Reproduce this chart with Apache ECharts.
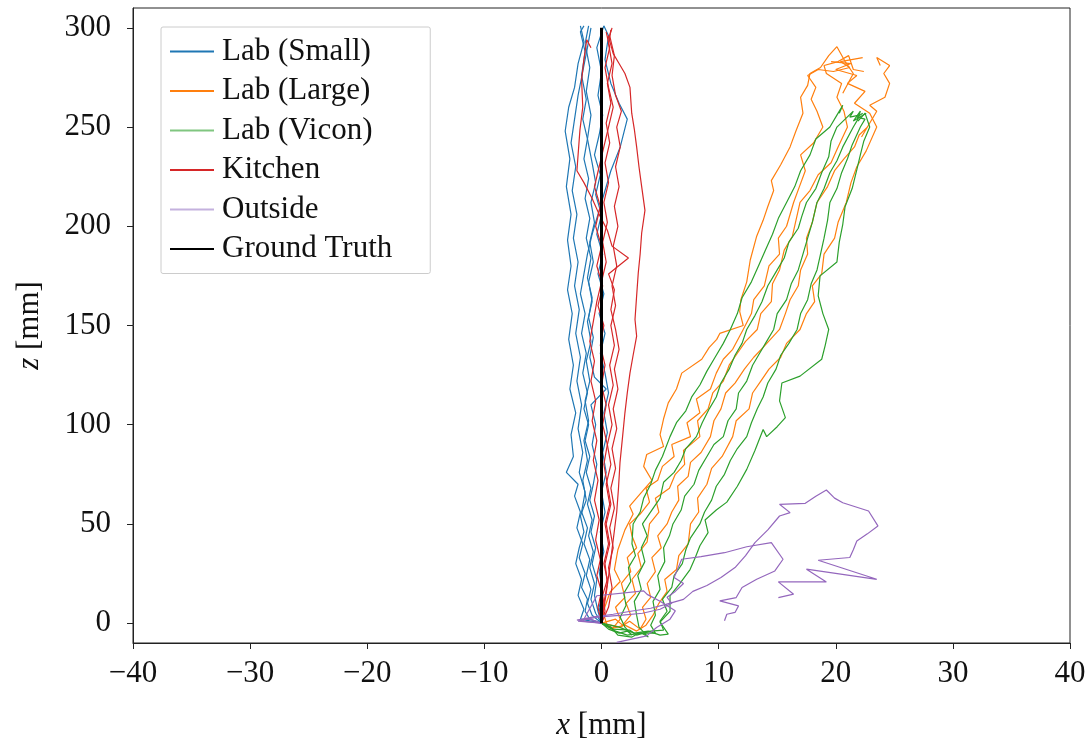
<!DOCTYPE html>
<html>
<head>
<meta charset="utf-8">
<script src="https://cdn.jsdelivr.net/npm/echarts@6/dist/echarts.min.js"></script>
<style>
html,body{margin:0;padding:0;background:#fff;}
#chart{width:1090px;height:746px;}
</style>
</head>
<body>
<div id="chart"></div>
<script>
// ---- Data (x [mm], z [mm]) ----
const groupNames = ['Lab (Small)', 'Lab (Large)', 'Lab (Vicon)', 'Kitchen', 'Outside', 'Ground Truth'];
const xTicks = [-40, -30, -20, -10, 0, 10, 20, 30, 40];
const zTicks = [0, 50, 100, 150, 200, 250, 300];

const labSmall = [
  [[0,0],[-1.0,2],[-1.4,6],[-1.2,12],[-1.7,18],[-1.4,25],[-1.9,33],[-1.6,40],[-2.1,48],[-1.8,56],[-2.3,64],[-2.0,70],[-3.0,76],[-2.4,84],[-2.6,95],[-2.2,106],[-2.7,118],[-2.4,130],[-2.8,143],[-2.5,156],[-2.9,168],[-2.6,180],[-2.9,193],[-2.6,206],[-3.0,220],[-2.7,234],[-3.1,248],[-2.8,260],[-2.3,270],[-2.0,282],[-1.5,293],[-1.8,301]],
  [[0,0],[-0.8,4],[-1.2,10],[-0.9,17],[-1.3,24],[-1.0,32],[-1.5,40],[-1.2,48],[-1.7,56],[-1.4,66],[-1.9,76],[-1.6,86],[-2.0,98],[-1.7,110],[-2.1,122],[-1.8,134],[-2.2,146],[-1.9,158],[-2.3,170],[-2.0,182],[-2.4,194],[-2.1,206],[-2.5,218],[-2.2,230],[-2.6,242],[-2.3,254],[-2.0,266],[-1.6,278],[-1.2,290],[-0.9,300]],
  [[0,0],[-0.5,5],[-0.9,12],[-0.6,20],[-1.0,28],[-0.7,36],[-1.1,44],[-0.8,52],[-1.2,60],[-0.9,68],[-1.3,76],[-1.0,84],[-1.4,92],[-1.1,100],[-1.5,108],[-1.2,116],[-1.6,126],[-1.3,136],[-1.7,146],[-1.4,156],[-1.8,166],[-1.5,176],[-1.2,186],[-0.8,196],[-0.3,206],[0.2,216],[0.8,228],[1.6,240],[2.2,254],[1.5,262],[0.8,272],[0.3,284],[0.6,296],[0.2,301]],
  [[0,0],[-0.3,6],[-0.6,14],[-0.4,22],[-0.8,30],[-0.5,38],[-0.9,46],[-0.6,54],[-1.0,62],[-0.7,70],[-0.4,80],[-0.8,90],[-0.5,100],[-0.9,110],[0.4,118],[-0.6,124],[-1.0,134],[-0.7,144],[-1.1,154],[-0.8,164],[-1.2,174],[-0.9,184],[-1.3,194],[-1.0,204],[-1.4,214],[-1.1,224],[-1.5,234],[-1.2,244],[-1.6,254],[-1.3,264],[-1.7,276],[-1.4,288],[-1.8,298],[-1.5,301]],
  [[0,0],[-1.8,2],[-1.5,7],[-2.0,14],[-1.7,22],[-2.2,30],[-1.9,38],[-1.5,46],[-1.8,54],[-1.3,62],[-1.6,72],[-1.2,82],[-1.5,92],[-1.1,102],[-1.4,112],[-1.0,122],[-1.3,132],[-0.9,142],[-1.2,152],[-0.8,162],[-1.1,172],[-0.7,182],[-1.0,192],[-0.6,202],[-0.9,212],[-0.5,222],[-0.8,232],[-1.2,244],[-0.9,256],[-1.3,268],[-1.0,280],[-1.4,292],[-1.1,301]],
  [[0,0],[-0.2,8],[0.1,16],[-0.2,26],[0.2,36],[-0.1,46],[0.3,56],[0.0,66],[0.4,76],[0.1,86],[0.5,96],[0.2,106],[0.6,116],[0.3,126],[-0.1,136],[0.3,146],[-0.2,156],[0.2,166],[-0.3,176],[0.1,186],[-0.4,196],[0.0,206],[-0.5,216],[-0.1,226],[-0.6,236],[-0.2,246],[0.1,256],[-0.3,266],[0.0,278],[-0.4,290],[0.2,301]]
];

const labLarge = [
  [[0,0],[0.5,-1.5],[0.13,5.5],[0.73,15.6],[1.6,21],[1.1,27],[1.4,37],[2.0,47],[2.7,55],[2.4,59],[3.43,66],[4.3,72],[3.6,79],[3.86,85],[5.3,89],[5.0,95],[5.3,103],[5.7,111],[6.4,118],[6.85,126],[8.56,133],[9.2,139],[9.84,143],[10.1,146],[12.1,150],[11.8,157],[11.9,163],[12.4,172],[12.7,183],[13.25,195],[13.8,203],[14.2,210],[14.7,218],[14.5,223],[15.3,231],[16.1,240],[16.6,248],[17.2,257],[17.0,265],[17.6,271],[17.8,277],[18.7,280],[19.4,286],[20.1,290.5],[20.8,283],[21.5,277],[20.6,267]],
  [[0,0],[0.9,-3],[1.6,2],[1.2,8],[2.0,13],[1.7,20],[2.5,26],[2.2,33],[3.0,38],[2.6,44],[2.4,50],[3.3,55],[4.1,61],[3.8,68],[4.8,72],[5.2,79],[6.2,84],[6.0,90],[7.6,94],[7.3,101],[8.4,106],[8.1,113],[9.3,118],[9.8,126],[10.4,133],[11.2,138],[12.1,148],[12.8,156],[13.0,163],[13.9,170],[14.3,180],[15.2,186],[15.1,194],[15.8,200],[16.4,212],[16.9,220],[17.4,228],[17.0,236],[18.1,242],[18.9,250],[18.4,258],[17.9,264],[18.3,270],[17.6,276],[18.5,279],[19.8,278],[21.2,280],[20.4,283],[22.3,285]],
  [[0,0],[1.2,2],[1.8,-1],[2.5,4],[2.1,10],[2.9,15],[2.6,22],[3.4,28],[3.1,35],[3.9,41],[4.1,50],[4.9,56],[4.6,63],[5.8,68],[6.3,75],[7.1,80],[7.0,87],[8.4,94],[8.2,102],[9.1,108],[9.5,116],[10.4,122],[10.9,130],[11.6,136],[12.3,142],[13.3,148],[13.6,156],[14.5,162],[14.6,171],[15.2,178],[15.6,188],[16.3,195],[16.95,212],[17.8,218],[18.5,226],[19.6,232],[20.2,240],[21.0,250],[20.7,258],[20.1,265],[20.5,272],[19.2,277],[19.0,281],[20.2,283],[21.1,286],[21.5,279],[22.4,278]],
  [[0,0],[1.6,-2],[2.4,1],[3.3,-3],[3.8,2],[3.5,8],[4.2,13],[3.9,20],[4.6,26],[4.3,33],[5.1,38],[4.8,44],[5.6,50],[6.0,56],[6.6,62],[6.5,69],[7.4,74],[7.6,81],[8.5,86],[9.3,94],[9.6,102],[10.2,108],[10.6,116],[11.4,121],[12.2,128],[13.0,134],[13.8,139],[15.2,148],[15.7,156],[16.1,163],[16.8,170],[17.0,178],[17.6,186],[17.5,194],[18.0,202],[18.4,212],[19.3,220],[19.9,228],[20.7,234],[21.6,240],[22.0,246],[22.7,250],[22.2,245],[23.5,258],[22.9,261],[24.2,265],[24.6,272],[24.1,277],[24.6,281],[23.5,285],[23.8,281]],
  [[0,0],[1.0,-2.5],[2.0,-1],[3.0,-4],[3.8,-1],[4.4,4],[4.9,10],[5.6,16],[5.4,22],[6.4,27],[6.6,34],[7.4,40],[7.6,50],[8.3,56],[8.2,63],[9.0,70],[9.4,78],[10.3,84],[11.2,94],[11.5,102],[12.6,108],[12.9,116],[13.6,122],[14.3,128],[15.3,134],[15.8,141],[16.95,148],[17.5,156],[18.2,162],[18.0,170],[18.8,176],[19.0,186],[19.9,194],[20.2,202],[20.9,212],[21.3,222],[21.8,230],[22.6,238],[23.5,250],[22.9,257],[21.6,262],[22.5,268],[21.0,272],[21.8,276],[20.0,279],[21.3,282],[19.6,283]]
];

const labVicon = [
  [[0,0],[0.6,-3],[1.5,-5],[2.2,-4],[2.6,-6],[2.0,-2],[1.6,3],[2.1,9],[1.9,15],[2.5,21],[2.3,28],[2.9,34],[2.6,40],[2.7,50],[3.3,56],[3.6,63],[4.2,70],[4.6,77],[5.2,84],[5.85,94],[6.4,101],[7.2,107],[7.7,114],[8.4,120],[9.0,127],[9.7,134],[10.4,141],[11.0,148],[11.6,156],[12.0,164],[12.8,172],[13.4,180],[14.0,188],[14.6,196],[15.1,204],[15.8,212],[16.5,220],[17.0,228],[17.8,236],[18.3,244],[19.5,250],[20.1,256],[20.6,261],[20.3,257]],
  [[0,0],[1.2,-4],[2.2,-6],[3.4,-5],[4.0,-7],[3.2,-2],[3.0,4],[2.8,11],[3.4,17],[3.1,24],[3.7,31],[3.4,38],[3.9,44],[3.5,50],[4.3,57],[5.0,63],[5.3,71],[6.2,76],[6.8,82],[7.2,88],[8.1,94],[8.6,101],[9.2,108],[9.8,114],[10.2,121],[10.9,128],[11.4,135],[12.0,141],[12.4,148],[13.1,155],[13.7,162],[14.2,170],[14.9,177],[15.6,184],[16.0,192],[16.8,199],[17.1,205],[17.5,212],[18.3,219],[18.8,227],[19.4,235],[19.6,243],[20.1,250],[20.8,254],[21.5,258],[21.2,255],[22.0,256]],
  [[0,0],[0.8,-2],[1.4,-6],[2.6,-7],[3.2,-5],[4.6,-5],[4.2,-1],[4.6,4],[4.4,11],[5.0,17],[4.8,24],[5.4,31],[5.3,38],[5.8,44],[6.1,50],[6.8,57],[7.1,64],[7.9,70],[8.3,77],[9.0,84],[9.6,90],[10.4,94],[10.8,102],[11.5,108],[11.7,116],[12.4,122],[12.9,130],[13.5,136],[14.1,142],[14.7,148],[15.0,156],[15.8,163],[16.2,171],[16.8,178],[17.2,186],[17.6,194],[18.0,202],[18.4,212],[19.0,219],[19.5,227],[20.1,233],[20.6,240],[21.5,250],[21.9,254],[22.1,258],[21.5,253],[22.6,257]],
  [[0,0],[1.0,-3],[2.4,-3.5],[3.0,-6],[4.2,-4],[5.3,-3.5],[5.0,1],[5.6,6],[5.2,12],[6.0,18],[6.2,24],[6.9,30],[7.2,37],[7.6,43],[8.4,50],[8.8,56],[9.4,62],[9.8,69],[10.5,75],[11.0,82],[11.6,88],[12.4,94],[12.8,101],[13.3,108],[13.8,114],[14.2,121],[14.9,128],[15.3,135],[16.0,141],[16.7,148],[17.0,156],[17.6,163],[17.9,171],[18.4,178],[18.7,186],[19.0,194],[19.3,203],[19.5,212],[20.1,219],[20.5,227],[21.0,234],[21.4,241],[22.1,250],[22.5,254],[21.8,255],[22.3,257]],
  [[0,0],[1.5,-2],[2.8,-5],[4.0,-4],[5.0,-6],[5.7,-5.5],[5.0,0.5],[5.85,6],[5.85,13.7],[6.7,20],[7.56,27],[8.0,33],[8.4,39],[9.1,45.6],[8.84,52],[9.8,57],[10.7,61],[11.6,69],[12.4,77.5],[13.1,87],[13.8,97.6],[14.1,94],[15.0,99],[15.7,103.6],[15.2,112],[15.4,121],[16.95,124.5],[18.8,133],[19.1,140],[19.4,148],[18.9,156],[18.5,165],[18.66,175],[20.1,182],[20.3,192],[20.6,201],[20.8,210],[21.4,219],[21.8,228.5],[22.1,236],[22.4,243],[22.9,250],[22.5,257],[21.9,253]]
];

const kitchen = [
  [[0,0],[0.15,5.5],[0.4,15],[0.73,29],[1.0,42],[1.3,56],[1.45,68],[1.58,81],[1.8,94],[2.0,106],[2.2,116],[2.43,126],[2.7,135],[3.0,144.6],[2.86,153],[3.0,165],[3.14,176.6],[3.3,186],[3.43,196.6],[3.71,208],[3.43,220],[3.2,230],[3.0,240],[2.8,249],[2.58,257],[2.43,270],[2.0,277],[1.5,282],[1.0,287],[0.58,296]],
  [[0,0],[0.6,8],[0.9,18],[0.6,28],[1.0,38],[0.7,48],[1.1,58],[0.8,68],[1.2,78],[0.9,88],[1.3,98],[1.0,108],[1.4,118],[1.1,128],[1.5,138],[1.2,148],[0.8,158],[1.1,168],[0.6,176],[2.3,184],[0.9,190],[0.5,198],[-0.2,206],[-0.8,214],[-1.5,222],[-2.1,228],[-1.84,248.6],[-1.6,260],[-1.7,273.8],[-1.5,284],[-1.26,294],[-0.9,290]],
  [[0,0],[0.3,6],[0.1,14],[0.5,22],[0.2,30],[0.6,40],[0.3,50],[0.7,60],[0.4,70],[0.8,80],[0.5,90],[0.9,100],[0.6,110],[1.0,120],[0.7,130],[1.1,140],[0.8,150],[1.2,160],[0.9,170],[1.3,180],[1.0,190],[1.4,200],[1.1,210],[1.5,220],[1.2,230],[1.6,240],[1.3,250],[1.7,258],[1.2,266],[0.9,276],[1.1,286],[0.7,296],[0.9,300]],
  [[0,0],[-0.3,8],[0.0,16],[-0.4,24],[-0.1,32],[-0.5,42],[-0.2,52],[-0.6,62],[-0.3,72],[-0.7,82],[-0.4,92],[-0.8,102],[-0.5,112],[-0.9,122],[-0.6,132],[-1.0,142],[-0.7,152],[-0.4,162],[0.0,172],[0.4,182],[0.1,192],[0.5,202],[0.2,212],[0.6,222],[0.3,232],[0.7,242],[0.4,252],[0.8,262],[0.5,272],[0.9,282],[0.6,292],[0.8,299]],
  [[0,0],[0.2,10],[0.5,20],[0.3,30],[0.7,40],[0.4,50],[0.8,60],[0.5,70],[0.2,80],[0.5,90],[0.1,100],[0.4,110],[0.0,120],[0.3,130],[-0.1,140],[0.2,150],[-0.3,160],[0.1,170],[-0.4,180],[0.0,190],[-0.5,200],[-0.1,210],[-0.6,220],[-0.2,230],[0.2,240],[0.6,250],[1.0,260],[0.6,270],[0.3,280],[0.7,290],[0.4,298]]
];

const outside = [
  [[0,0],[-1.0,2],[-2.1,1.5],[-0.8,3],[1.0,4.5],[2.5,6],[4.2,7.5],[5.5,9.5],[7.0,12],[7.8,16],[9.0,19],[10.2,23],[11.4,28],[12.3,34],[13.1,40.6],[14.2,47],[15.2,54],[16.1,55.7],[15.2,59.9],[17.4,60.4],[18.3,64],[19.2,67.1],[19.9,63],[20.6,60.7],[22.8,56.5],[23.6,49],[22.7,45],[21.8,41.4],[21.5,37],[21.2,33.1],[18.5,31.7],[23.5,22.1],[17.5,27.2],[19.2,20.8],[15.1,20.8],[16.4,14.6],[15.1,12.9]],
  [[0,0],[-2.0,1],[-0.4,3],[1.8,4],[3.5,5],[5.0,7],[6.0,10],[5.6,13],[6.3,16],[7.0,20],[6.2,23],[6.85,32.2],[8.5,33.5],[10.5,35.5],[12.4,38.5],[14.5,40.6],[15.5,32.2],[14.8,26.3],[13.25,22.1],[12.0,18],[11.5,12.9],[10.1,11.2],[11.7,8.7],[11.4,5.4],[10.7,4.5],[10.5,1.2]],
  [[0,0],[-1.6,1],[-0.4,13.8],[3.6,16.3],[3.9,14.5],[5.0,11],[6.3,6.2],[5.85,2],[4.7,-2.2],[3.86,-6.4],[1.3,-9.7]]
];

const groundTruth = [[0,0],[0,300]];

// ---- Styles ----
const colors = ['#1f77b4', '#ff7f0e', '#2ca02c', '#d62728', '#9467bd', '#000000'];
const FONT = 'Liberation Serif';
const groups = [labSmall, labLarge, labVicon, kitchen, outside];

const series = [];
groups.forEach((trajs, gi) => {
  trajs.forEach(t => {
    series.push({
      type: 'line', name: groupNames[gi], data: t,
      symbol: 'none', showSymbol: false, silent: true,
      lineStyle: { color: colors[gi], width: 1.2 },
      itemStyle: { color: colors[gi] }
    });
  });
});
series.push({
  type: 'line', name: groupNames[5], data: groundTruth,
  symbol: 'none', showSymbol: false, silent: true,
  lineStyle: { color: '#000', width: 3 }, itemStyle: { color: '#000' }
});

const fmt = v => (v < 0 ? '\u2212' + Math.abs(v) : String(v));

const chart = echarts.init(document.getElementById('chart'), null, { renderer: 'canvas' });
chart.setOption({
  animation: false,
  backgroundColor: '#fff',
  grid: { left: 133, right: 20, top: 8, bottom: 102, show: true, borderColor: '#222', borderWidth: 1, containLabel: false },
  xAxis: {
    type: 'value', min: -40, max: 40, interval: 10,
    name: '{i|x} [mm]', nameLocation: 'middle', nameGap: 67,
    nameTextStyle: { fontFamily: FONT, fontSize: 31, color: '#111', rich: { i: { fontFamily: FONT, fontSize: 31, fontStyle: 'italic', color: '#111' } } },
    axisLine: { show: true, onZero: false, lineStyle: { color: '#222', width: 1 } },
    axisTick: { show: true, inside: false, length: 6, lineStyle: { color: '#222' } },
    axisLabel: { fontFamily: FONT, fontSize: 31, color: '#111', margin: 15, formatter: fmt },
    splitLine: { show: false }
  },
  yAxis: {
    type: 'value', min: -10, max: 310,
    name: '{i|z} [mm]', nameLocation: 'middle', nameGap: 88, nameRotate: 90,
    nameTextStyle: { fontFamily: FONT, fontSize: 31, color: '#111', rich: { i: { fontFamily: FONT, fontSize: 31, fontStyle: 'italic', color: '#111' } } },
    axisLine: { show: true, onZero: false, lineStyle: { color: '#222', width: 1 } },
    axisTick: { show: true, inside: false, length: 6, customValues: zTicks, lineStyle: { color: '#222' } },
    axisLabel: { fontFamily: FONT, fontSize: 31, color: '#111', margin: 22, customValues: zTicks, formatter: fmt },
    splitLine: { show: false }
  },
  legend: {
    left: 161, top: 27, orient: 'vertical',
    selectedMode: false,
    backgroundColor: '#fff', borderColor: '#cccccc', borderWidth: 1, borderRadius: 2,
    padding: [9, 38, 9, 9],
    itemWidth: 44, itemHeight: 2, itemGap: 8.5,
    textStyle: { fontFamily: FONT, fontSize: 31, color: '#111', lineHeight: 30, padding: [0, 0, 0, 3] },
    data: groupNames.map((n, i) => ({
      name: n, icon: 'rect',
      itemStyle: { color: [colors[0], colors[1], '#80c680', colors[3], '#c4b1de', '#000'][i] }
    }))
  },
  series: series
});
</script>
</body>
</html>
